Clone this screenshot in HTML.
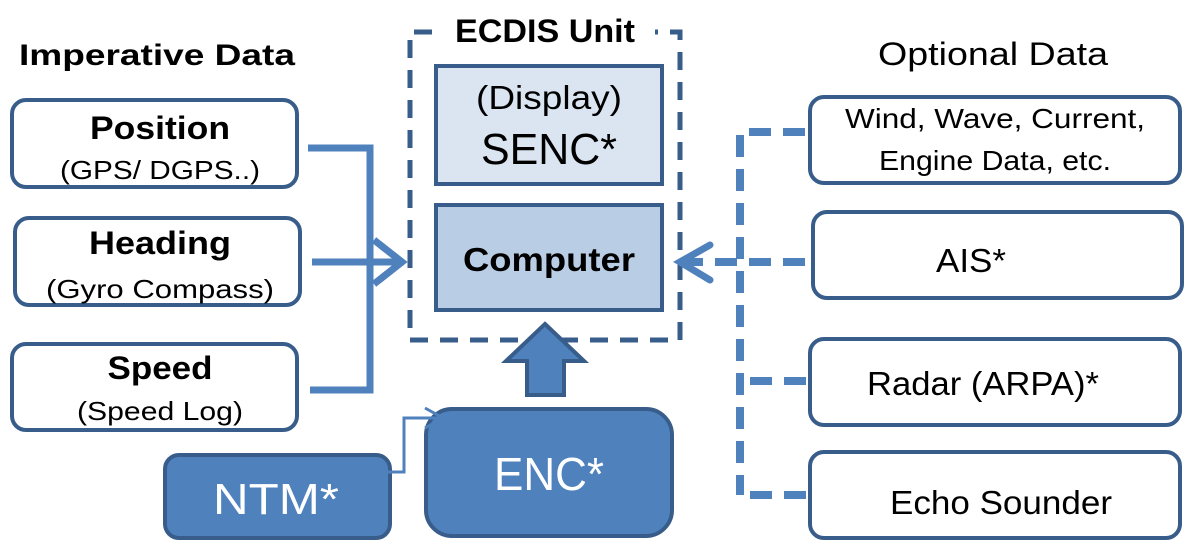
<!DOCTYPE html>
<html><head><style>
body{margin:0;background:#fff;}
svg text{font-family:"Liberation Sans",sans-serif;}
</style></head><body>
<svg width="1200" height="549" viewBox="0 0 1200 549" xmlns="http://www.w3.org/2000/svg">
<rect width="1200" height="549" fill="#fff"/>
<text x="157" y="65" font-size="30" font-weight="bold" text-anchor="middle" textLength="276" lengthAdjust="spacingAndGlyphs">Imperative Data</text>
<text x="993" y="65" font-size="32" text-anchor="middle" textLength="230" lengthAdjust="spacingAndGlyphs">Optional Data</text>

<g fill="#fff" stroke="#385d8a" stroke-width="4">
<rect x="12" y="100" width="285" height="87" rx="14"/>
<rect x="15" y="218" width="285" height="87" rx="14"/>
<rect x="12" y="344" width="285" height="86" rx="14"/>
</g>
<text x="160" y="139" font-size="32" font-weight="bold" text-anchor="middle" textLength="140" lengthAdjust="spacingAndGlyphs">Position</text>
<text x="160" y="179" font-size="26" text-anchor="middle" textLength="200" lengthAdjust="spacingAndGlyphs">(GPS/ DGPS..)</text>
<text x="160" y="254" font-size="32" font-weight="bold" text-anchor="middle" textLength="142" lengthAdjust="spacingAndGlyphs">Heading</text>
<text x="160" y="298" font-size="26" text-anchor="middle" textLength="228" lengthAdjust="spacingAndGlyphs">(Gyro Compass)</text>
<text x="160" y="379" font-size="32" font-weight="bold" text-anchor="middle" textLength="105" lengthAdjust="spacingAndGlyphs">Speed</text>
<text x="160" y="420" font-size="26" text-anchor="middle" textLength="166" lengthAdjust="spacingAndGlyphs">(Speed Log)</text>

<g stroke="#4f81bd" stroke-width="7" fill="none">
<polyline points="308,148 370,148 370,390 310,390"/>
<line x1="312" y1="262" x2="400" y2="262"/>
<polyline points="374,240 402,262 374,284" stroke-linejoin="miter"/>
</g>

<path d="M432,32 H410 V340 H680 V32 H655" fill="none" stroke="#385d8a" stroke-width="5" stroke-dasharray="18,12"/>
<text x="545" y="42" font-size="32" font-weight="bold" text-anchor="middle" textLength="180" lengthAdjust="spacingAndGlyphs">ECDIS Unit</text>
<rect x="436" y="66" width="226" height="118" fill="#dbe5f1" stroke="#385d8a" stroke-width="4"/>
<text x="549" y="109" font-size="33" text-anchor="middle" textLength="146" lengthAdjust="spacingAndGlyphs">(Display)</text>
<text x="549" y="164" font-size="44" text-anchor="middle" textLength="136" lengthAdjust="spacingAndGlyphs">SENC*</text>
<rect x="436" y="205" width="226" height="105" fill="#b9cde5" stroke="#385d8a" stroke-width="4"/>
<text x="549" y="271" font-size="33" font-weight="bold" text-anchor="middle" textLength="172" lengthAdjust="spacingAndGlyphs">Computer</text>

<polygon points="545,324 584,361 564,361 564,395 527,395 527,361 506,361" fill="#4f81bd" stroke="#385d8a" stroke-width="4"/>

<rect x="426" y="409" width="246" height="127" rx="26" fill="#4f81bd" stroke="#385d8a" stroke-width="4"/>
<text x="549" y="490" font-size="46" fill="#fff" text-anchor="middle" textLength="110" lengthAdjust="spacingAndGlyphs">ENC*</text>
<rect x="165" y="455" width="225" height="83" rx="14" fill="#4f81bd" stroke="#385d8a" stroke-width="4"/>
<text x="276" y="514" font-size="44" fill="#fff" text-anchor="middle" textLength="126" lengthAdjust="spacingAndGlyphs">NTM*</text>
<g stroke="#4f81bd" stroke-width="3" fill="none">
<polyline points="360,472 404,472 404,418 442,418"/>
<polyline points="425,408 443,418 425,428"/>
</g>

<g fill="#fff" stroke="#385d8a" stroke-width="4">
<rect x="810" y="97" width="370" height="86" rx="14"/>
<rect x="813" y="212" width="369" height="86" rx="14"/>
<rect x="810" y="339" width="370" height="86" rx="14"/>
<rect x="810" y="452" width="370" height="86" rx="14"/>
</g>
<text x="995" y="128" font-size="28" text-anchor="middle" textLength="300" lengthAdjust="spacingAndGlyphs">Wind, Wave, Current,</text>
<text x="995" y="170" font-size="28" text-anchor="middle" textLength="232" lengthAdjust="spacingAndGlyphs">Engine Data, etc.</text>
<text x="971" y="272" font-size="33" text-anchor="middle" textLength="70" lengthAdjust="spacingAndGlyphs">AIS*</text>
<text x="983" y="395" font-size="33" text-anchor="middle" textLength="232" lengthAdjust="spacingAndGlyphs">Radar (ARPA)*</text>
<text x="1001" y="514" font-size="33" text-anchor="middle" textLength="222" lengthAdjust="spacingAndGlyphs">Echo Sounder</text>

<g stroke="#4f81bd" stroke-width="8" fill="none" stroke-dasharray="22,12">
<line x1="805" y1="132" x2="740" y2="132"/>
<line x1="740" y1="135" x2="740" y2="495"/>
<line x1="805" y1="262" x2="684" y2="262"/>
<line x1="806" y1="381" x2="744" y2="381"/>
<line x1="806" y1="495" x2="744" y2="495"/>
</g>
<polyline points="710,245 680,262 710,280" stroke="#4f81bd" stroke-width="7" fill="none" stroke-linecap="round"/>
</svg>
</body></html>
